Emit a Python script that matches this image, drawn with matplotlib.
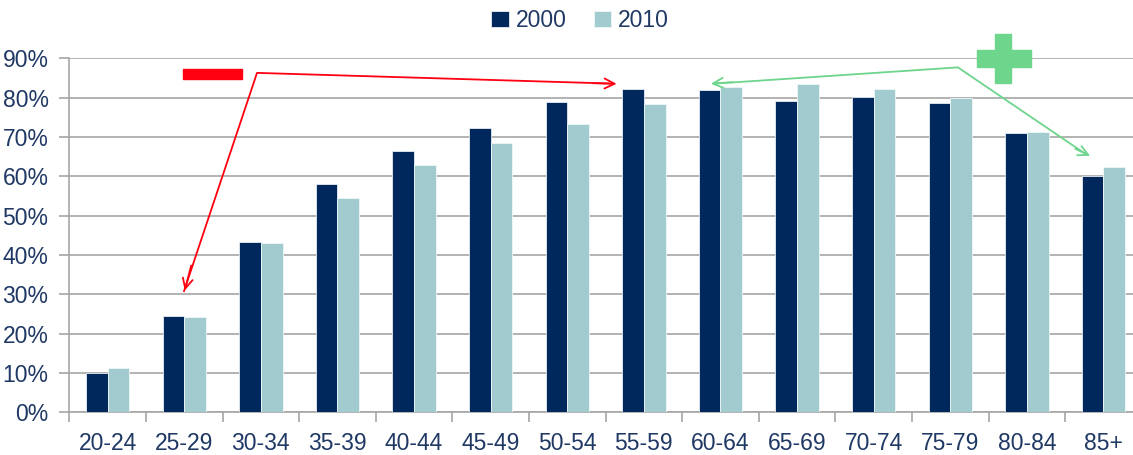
import numpy as np
import matplotlib.pyplot as plt
from matplotlib.patches import Rectangle

# age groups and share for the two years (%)
ages = ['20-24', '25-29', '30-34', '35-39', '40-44', '45-49', '50-54',
        '55-59', '60-64', '65-69', '70-74', '75-79', '80-84', '85+']
y2000 = [9.9, 24.5, 43.3, 58.1, 66.4, 72.4, 78.9, 82.2, 81.9, 79.2, 80.2, 78.6, 70.9, 60.2]
y2010 = [11.2, 24.2, 43.0, 54.4, 62.9, 68.5, 73.3, 78.4, 82.6, 83.4, 82.1, 80.0, 71.3, 62.4]
yticks = [0, 10, 20, 30, 40, 50, 60, 70, 80, 90]

navy = '#00285C'
light = '#A2CBD0'
text_col = '#1F3864'
grid_col = '#A6A6A6'
red = '#FF0010'
green = '#6DD58C'

plt.rcParams['font.family'] = ['Liberation Sans Narrow', 'Liberation Sans', 'DejaVu Sans']

fig = plt.figure(figsize=(11.33, 4.55), dpi=100)
ax = fig.add_axes([0.0612, 0.0938, 0.9465, 0.778])

x = np.arange(len(ages))
w = 0.283
ax.bar(x - w / 2, y2000, w, color=navy, edgecolor='#E6EEF4', linewidth=0.6, label='2000', zorder=3)
ax.bar(x + w / 2, y2010, w, color=light, edgecolor='#EEF6F7', linewidth=0.6, label='2010', zorder=3)

ax.set_xlim(-0.5, len(ages) - 0.5)
ax.set_ylim(0, 90)
ax.set_yticks(yticks)
ax.set_yticklabels([f'{v}%' for v in yticks])
ax.yaxis.grid(True, color=grid_col, linewidth=1.2, zorder=0)
ax.set_axisbelow(True)

ax.set_xticks(x)
ax.set_xticklabels(ages)
ax.set_xticks(np.arange(len(ages) + 1) - 0.5, minor=True)
ax.tick_params(axis='x', which='major', length=0, pad=14, labelsize=16.5, labelcolor=text_col)
ax.tick_params(axis='x', which='minor', length=7, width=1.2, color=grid_col, direction='out')
ax.tick_params(axis='y', length=7, width=1.2, color=grid_col, pad=8, labelsize=16.5, labelcolor=text_col)

for s in ['top', 'right']:
    ax.spines[s].set_visible(False)
for s in ['left', 'bottom']:
    ax.spines[s].set_color(grid_col)
    ax.spines[s].set_linewidth(1.2)

leg = fig.legend(loc='center', bbox_to_anchor=(0.512, 0.955), ncol=2, frameon=False,
                 fontsize=16.5, handlelength=0.75, handleheight=0.75, handletextpad=0.3,
                 columnspacing=1.2)
for t in leg.get_texts():
    t.set_color(text_col)

# red "minus" annotation
ax.add_patch(Rectangle((0.98, 84.7), 0.78, 2.5, color=red, clip_on=False, zorder=5))
ax.plot([0.997, 1.95, 6.55], [30.8, 86.3, 83.6], color=red, lw=1.3, clip_on=False, zorder=5)
ax.annotate('', xy=(0.997, 30.3), xytext=(1.1, 38),
            arrowprops=dict(arrowstyle='->', color=red, lw=1.3, mutation_scale=18), annotation_clip=False)
ax.annotate('', xy=(6.68, 83.5), xytext=(6.3, 83.7),
            arrowprops=dict(arrowstyle='->', color=red, lw=1.3, mutation_scale=18), annotation_clip=False)

# green "plus" annotation
ax.add_patch(Rectangle((11.35, 87.9), 0.70, 4.25, color=green, clip_on=False, zorder=5))
ax.add_patch(Rectangle((11.58, 83.8), 0.218, 12.3, color=green, clip_on=False, zorder=5))
ax.plot([7.95, 11.10, 12.75], [83.6, 87.7, 65.9], color=green, lw=1.3, clip_on=False, zorder=5)
ax.annotate('', xy=(7.84, 83.5), xytext=(8.2, 84.0),
            arrowprops=dict(arrowstyle='->', color=green, lw=1.3, mutation_scale=18), annotation_clip=False)
ax.annotate('', xy=(12.86, 64.9), xytext=(12.6, 67.3),
            arrowprops=dict(arrowstyle='->', color=green, lw=1.3, mutation_scale=18), annotation_clip=False)

fig.savefig('out.png', dpi=100)
